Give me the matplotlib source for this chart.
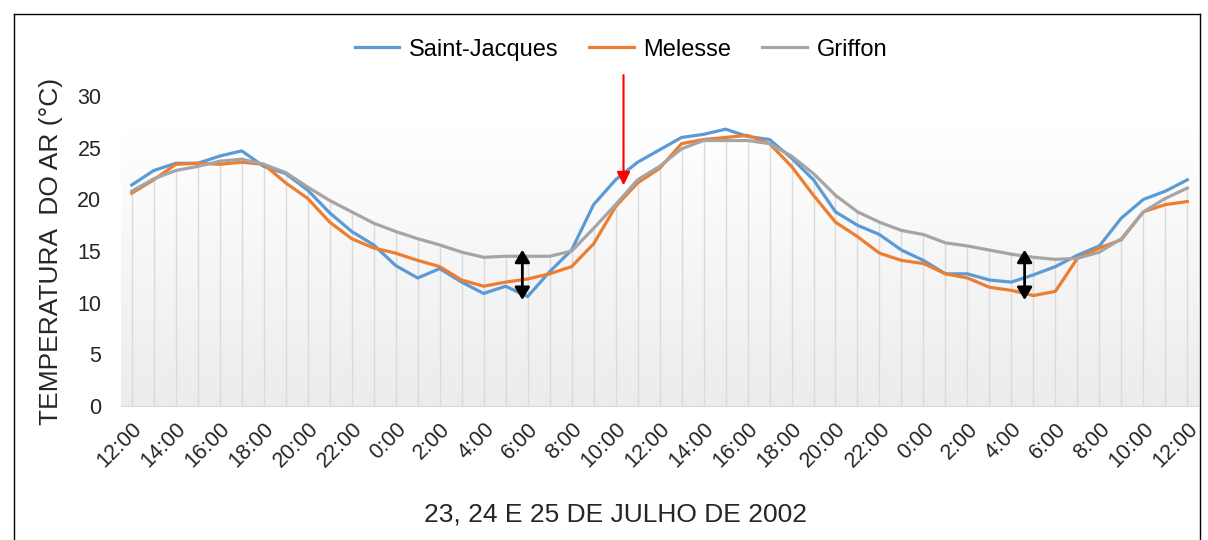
import numpy as np
import matplotlib
matplotlib.use("Agg")
import matplotlib.pyplot as plt
from matplotlib.colors import LinearSegmentedColormap
from matplotlib.lines import Line2D

# hourly readings, 23/07 12:00 -> 25/07 12:00
hours = ["12:00", "14:00", "16:00", "18:00", "20:00", "22:00", "0:00", "2:00", "4:00",
         "6:00", "8:00", "10:00", "12:00", "14:00", "16:00", "18:00", "20:00", "22:00",
         "0:00", "2:00", "4:00", "6:00", "8:00", "10:00", "12:00"]

saint_jacques = [21.4, 22.8, 23.5, 23.5, 24.2, 24.7, 23.2, 22.5, 20.9, 18.7, 16.9, 15.6,
                 13.6, 12.4, 13.3, 12.0, 10.9, 11.6, 10.6, 13.0, 15.1, 19.5, 21.9, 23.6,
                 24.8, 26.0, 26.3, 26.8, 26.1, 25.8, 24.0, 21.9, 18.8, 17.5, 16.6, 15.1,
                 14.1, 12.8, 12.8, 12.2, 12.0, 12.7, 13.5, 14.6, 15.5, 18.2, 20.0, 20.8, 21.9]
melesse = [20.6, 21.9, 23.4, 23.5, 23.4, 23.6, 23.4, 21.6, 20.1, 17.8, 16.2, 15.3,
           14.8, 14.1, 13.5, 12.2, 11.6, 12.0, 12.3, 12.8, 13.5, 15.7, 19.3, 21.6,
           23.0, 25.4, 25.8, 26.0, 26.2, 25.4, 23.2, 20.4, 17.8, 16.4, 14.8, 14.1,
           13.8, 12.8, 12.4, 11.5, 11.2, 10.7, 11.1, 14.3, 15.3, 16.1, 18.8, 19.5, 19.8]
griffon = [20.8, 22.0, 22.8, 23.2, 23.7, 23.9, 23.4, 22.6, 21.2, 19.9, 18.8, 17.7,
           16.9, 16.2, 15.6, 14.9, 14.4, 14.5, 14.5, 14.5, 15.0, 17.2, 19.5, 21.9,
           23.2, 24.9, 25.7, 25.7, 25.7, 25.4, 24.2, 22.5, 20.4, 18.8, 17.8, 17.0,
           16.6, 15.8, 15.5, 15.1, 14.7, 14.4, 14.2, 14.3, 14.9, 16.2, 18.8, 20.1, 21.1]


def main():
    plt.rcParams['font.family'] = ['Liberation Sans', 'DejaVu Sans']
    fig = plt.figure(figsize=(12.08, 5.40), dpi=100)
    ax = fig.add_axes([0.100, 0.248, 0.892, 0.574])

    x = np.arange(len(saint_jacques))

    # plot area gradient + hour drop lines
    cmap = LinearSegmentedColormap.from_list("bg", ["#ececec", "#ffffff"])
    grad = np.linspace(0, 1, 100).reshape(-1, 1)
    ax.imshow(grad, extent=(-0.5, len(x) - 0.5, 0, 26.7), origin="lower",
              aspect="auto", cmap=cmap, zorder=0)
    ax.vlines(x, 0, griffon, color="#dadada", lw=1, zorder=1)

    ax.plot(x, saint_jacques, color="#5B9BD5", lw=2.3, label="Saint-Jacques", zorder=3)
    ax.plot(x, melesse, color="#ED7D31", lw=2.3, label="Melesse", zorder=3)
    ax.plot(x, griffon, color="#A5A5A5", lw=2.3, label="Griffon", zorder=3)

    ax.set_xlim(-0.5, len(x) - 0.5)
    ax.set_ylim(0, 30)
    ax.set_yticks(range(0, 31, 5))
    ax.set_xticks(x[::2])
    ax.set_xticklabels(hours, rotation=45, ha="right", rotation_mode="anchor")
    ax.tick_params(length=0, labelsize=15.5, colors="#262626")
    ax.tick_params(axis="x", pad=9)
    ax.tick_params(axis="y", pad=14)
    for s in ["top", "right", "left"]:
        ax.spines[s].set_visible(False)
    ax.spines["bottom"].set_color("#d9d9d9")
    ax.set_facecolor("none")

    ax.set_ylabel("TEMPERATURA  DO AR (°C)", fontsize=19, color="#262626", labelpad=10)
    ax.set_xlabel("23, 24 E 25 DE JULHO DE 2002", fontsize=19, color="#262626")
    ax.xaxis.set_label_coords(0.459, -0.31)

    # arrows drawn on the chart
    ax.annotate("", xy=(22.36, 21.1), xytext=(22.36, 32.3), annotation_clip=False,
                arrowprops=dict(arrowstyle="-|>,head_width=0.4,head_length=0.8",
                                color="red", lw=1.5), zorder=5)
    for xa in [17.76, 40.6]:
        ax.annotate("", xy=(xa, 10.0), xytext=(xa, 15.4),
                    arrowprops=dict(arrowstyle="<|-|>,head_width=0.45,head_length=0.75",
                                    color="black", lw=2), zorder=5)

    fig.legend(loc="upper center", bbox_to_anchor=(0.514, 0.968), ncol=3, frameon=False,
               fontsize=17, handlelength=1.9, columnspacing=1.3, handletextpad=0.4)

    # outer frame
    fig.add_artist(Line2D([0.0116, 0.0116], [0, 0.974], color="black", lw=1))
    fig.add_artist(Line2D([0.0116, 0.9935], [0.974, 0.974], color="black", lw=1))
    fig.add_artist(Line2D([0.9935, 0.9935], [0, 0.974], color="black", lw=1))

    fig.savefig("out.png", dpi=100)


if __name__ == "__main__":
    main()
